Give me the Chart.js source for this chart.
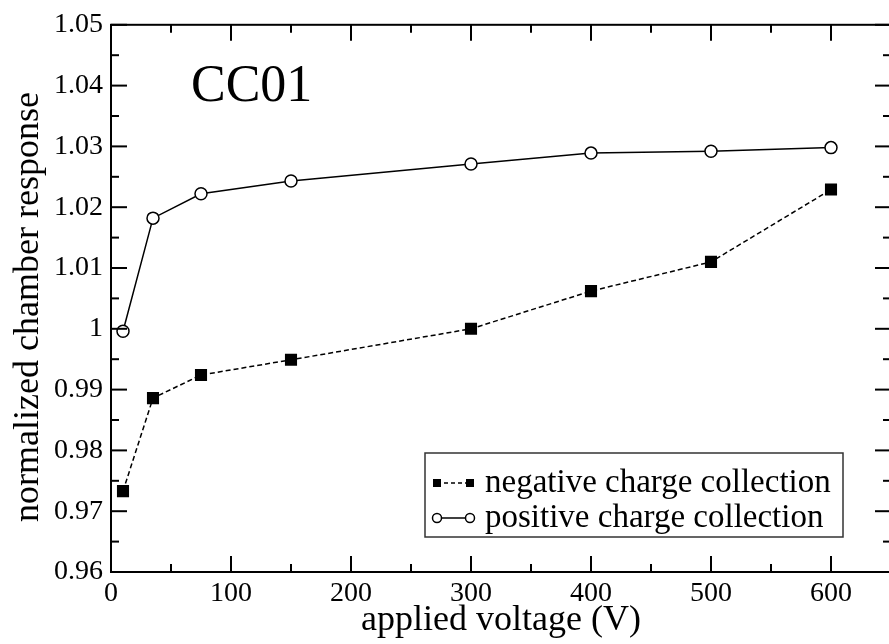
<!DOCTYPE html>
<html><head><meta charset="utf-8">
<script src="https://cdn.jsdelivr.net/npm/chart.js@4/dist/chart.umd.min.js"></script>
<style>html,body{margin:0;padding:0;background:#fff;overflow:hidden;width:889px;height:644px}canvas{position:absolute;left:0;top:0}</style>
</head><body><canvas id="c" width="900" height="644" style="width:900px;height:644px"></canvas>
<script>
const voltages = [10, 35, 75, 150, 300, 400, 500, 600];
const negativeResponse = [0.9733, 0.9886, 0.9924, 0.9949, 1.0000, 1.0062, 1.0110, 1.0229];
const positiveResponse = [0.9996, 1.0182, 1.0222, 1.0243, 1.0271, 1.0289, 1.0292, 1.0298];
const xTickValues = [0, 100, 200, 300, 400, 500, 600];
const xTickLabels = ['0', '100', '200', '300', '400', '500', '600'];
const yTickValues = [0.96, 0.97, 0.98, 0.99, 1.00, 1.01, 1.02, 1.03, 1.04, 1.05];
const yTickLabels = ['0.96', '0.97', '0.98', '0.99', '1', '1.01', '1.02', '1.03', '1.04', '1.05'];
const seriesNames = ['negative charge collection', 'positive charge collection'];
const chartLabel = 'CC01';
const xTitle = 'applied voltage (V)';
const yTitle = 'normalized chamber response';

const SERIF = "'Liberation Serif', 'Times New Roman', serif";

const decor = {
  id: 'decor',
  afterDraw(chart) {
    const {ctx, chartArea: a, scales: {x, y}} = chart;
    ctx.save();
    ctx.strokeStyle = '#000';
    ctx.lineWidth = 2;
    ctx.setLineDash([]);
    ctx.strokeRect(a.left, a.top, a.right - a.left, a.bottom - a.top);
    const major = 16, minor = 8;
    const line = (x1, y1, x2, y2) => { ctx.beginPath(); ctx.moveTo(x1, y1); ctx.lineTo(x2, y2); ctx.stroke(); };
    const xs = xTickValues[1] - xTickValues[0];
    xTickValues.forEach(v => {
      const p = x.getPixelForValue(v);
      line(p, a.bottom, p, a.bottom - major); line(p, a.top, p, a.top + major);
      const m = v + xs / 2;
      if (m <= x.max) { const q = x.getPixelForValue(m); line(q, a.bottom, q, a.bottom - minor); line(q, a.top, q, a.top + minor); }
    });
    const ys = yTickValues[1] - yTickValues[0];
    yTickValues.forEach(v => {
      const p = y.getPixelForValue(v);
      line(a.left, p, a.left + major, p); line(a.right, p, a.right - major, p);
      const m = v + ys / 2;
      if (m < y.max) { const q = y.getPixelForValue(m); line(a.left, q, a.left + minor, q); line(a.right, q, a.right - minor, q); }
    });
    // y axis title
    ctx.fillStyle = '#000';
    ctx.save();
    ctx.translate(29, 307);
    ctx.rotate(-Math.PI / 2);
    ctx.font = '36px ' + SERIF;
    ctx.textAlign = 'center';
    ctx.textBaseline = 'middle';
    ctx.fillText(yTitle, 0, 0);
    ctx.restore();
    // big label
    ctx.font = '52px ' + SERIF;
    ctx.textBaseline = 'alphabetic';
    ctx.textAlign = 'left';
    ctx.fillText(chartLabel, 191, 101);
    // legend
    const lx = 425, ly = 453, lw = 418, lh = 84;
    ctx.fillStyle = '#fff';
    ctx.fillRect(lx, ly, lw, lh);
    ctx.lineWidth = 1.5;
    ctx.strokeStyle = '#333';
    ctx.strokeRect(lx, ly, lw, lh);
    const r1 = 483, r2 = 518, s1 = 437, s2 = 470;
    ctx.strokeStyle = '#000';
    ctx.lineWidth = 1.5;
    ctx.setLineDash([4, 3]);
    line(s1, r1, s2, r1);
    ctx.setLineDash([]);
    ctx.fillStyle = '#000';
    ctx.fillRect(s1 - 4, r1 - 4, 8, 8);
    ctx.fillRect(s2 - 4, r1 - 4, 8, 8);
    line(s1, r2, s2, r2);
    [s1, s2].forEach(sx => { ctx.beginPath(); ctx.arc(sx, r2, 4.5, 0, Math.PI * 2); ctx.fillStyle = '#fff'; ctx.fill(); ctx.stroke(); });
    ctx.fillStyle = '#000';
    ctx.font = '33px ' + SERIF;
    ctx.textBaseline = 'middle';
    ctx.fillText(seriesNames[0], 485, r1);
    ctx.fillText(seriesNames[1], 485, r2);
    ctx.restore();
  }
};

new Chart(document.getElementById('c'), {
  type: 'line',
  data: {
    datasets: [
      {
        label: seriesNames[0],
        data: voltages.map((v, i) => ({x: v, y: negativeResponse[i]})),
        borderColor: '#000', borderWidth: 1.5, borderDash: [5, 3],
        pointStyle: 'rect', pointRadius: 7.5, pointBackgroundColor: '#000', pointBorderColor: '#000', pointBorderWidth: 1.5,
        tension: 0, fill: false
      },
      {
        label: seriesNames[1],
        data: voltages.map((v, i) => ({x: v, y: positiveResponse[i]})),
        borderColor: '#000', borderWidth: 1.5,
        pointStyle: 'circle', pointRadius: 6, pointBackgroundColor: '#fff', pointBorderColor: '#000', pointBorderWidth: 1.5,
        tension: 0, fill: false
      }
    ]
  },
  options: {
    responsive: false,
    animation: false,
    devicePixelRatio: 1,
    layout: {padding: {top: 23, right: 5, left: 0, bottom: 0}},
    plugins: {legend: {display: false}, tooltip: {enabled: false}},
    scales: {
      x: {
        type: 'linear', min: 0, max: 650,
        afterBuildTicks: s => { s.ticks = xTickValues.map(v => ({value: v})); },
        afterFit: s => { s.height = 72; },
        ticks: {callback: (v, i) => xTickLabels[i], color: '#000', font: {family: SERIF, size: 28}, padding: 5, maxRotation: 0, autoSkip: false},
        grid: {display: false, drawTicks: false},
        border: {display: false},
        title: {display: true, text: xTitle, color: '#000', font: {family: SERIF, size: 36, lineHeight: 1}, padding: {top: 0, bottom: 5}}
      },
      y: {
        type: 'linear', min: 0.96, max: 1.05,
        afterBuildTicks: s => { s.ticks = yTickValues.map(v => ({value: v})); },
        afterFit: s => { s.width = 111; },
        ticks: {callback: (v, i) => yTickLabels[i], color: '#000', font: {family: SERIF, size: 28}, padding: 8, autoSkip: false},
        grid: {display: false, drawTicks: false},
        border: {display: false},
        title: {display: false}
      }
    }
  },
  plugins: [decor]
});
</script>
</body></html>
